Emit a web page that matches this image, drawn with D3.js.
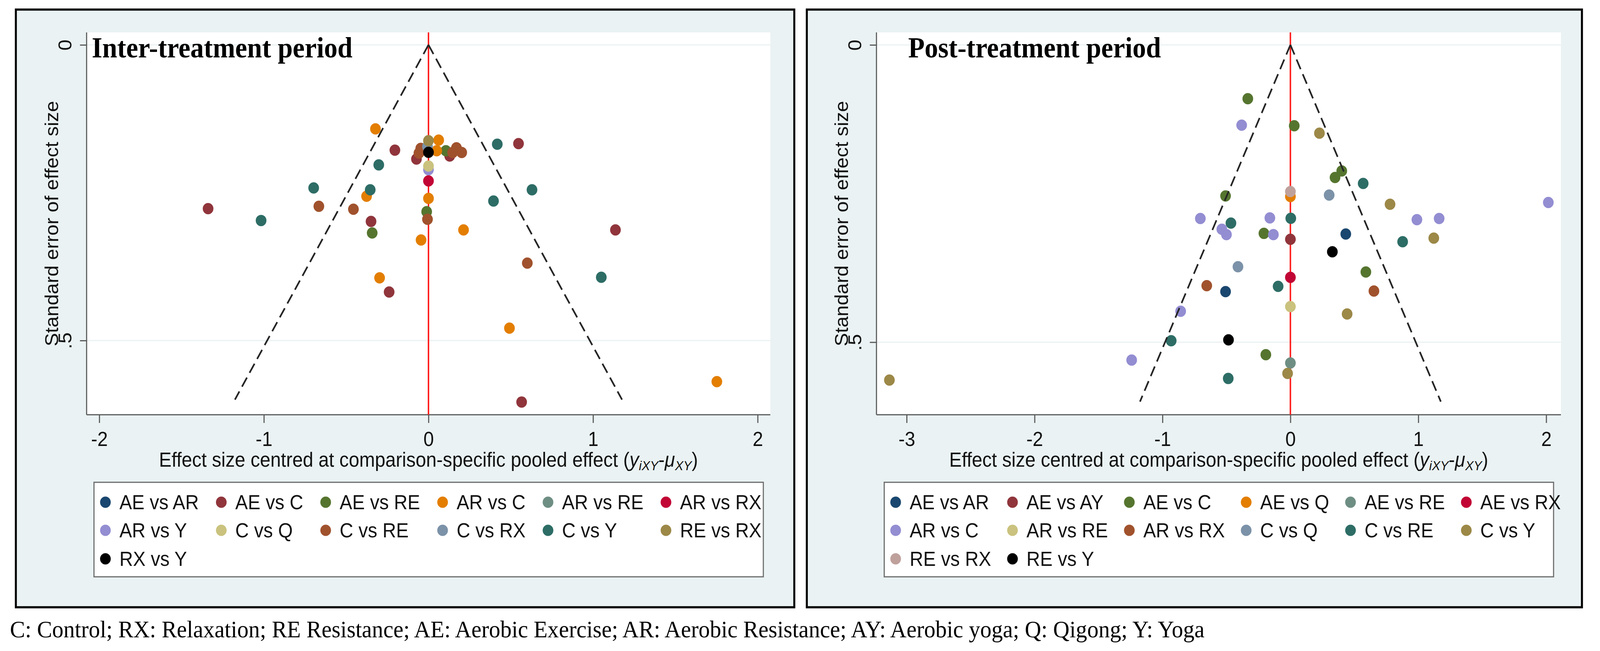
<!DOCTYPE html>
<html>
<head>
<meta charset="utf-8">
<script src="https://cdn.jsdelivr.net/npm/d3@7/dist/d3.min.js"></script>
<style>
  html, body { margin: 0; padding: 0; background: #ffffff; overflow: hidden; }
  #chart { display: block; width: 100vw; height: 100vh; }
</style>
</head>
<body>
<svg id="chart" viewBox="0 0 4341 1667" preserveAspectRatio="none"></svg>
<script>
// ---- data ----

// legend order is also the drawing order (later series on top)
const interSeries = ["AE vs AR", "AE vs C", "AE vs RE", "AR vs C", "AR vs RE", "AR vs RX",
                     "AR vs Y", "C vs Q", "C vs RE", "C vs RX", "C vs Y", "RE vs RX", "RX vs Y"];
const interColors = ["#1a476f", "#90353b", "#55752f", "#e37e00", "#6e8e84", "#c10534",
                     "#938dd2", "#cac27e", "#a0522d", "#7b92a8", "#2d6d66", "#9c8847", "#000000"];

const postSeries = ["AE vs AR", "AE vs AY", "AE vs C", "AE vs Q", "AE vs RE", "AE vs RX",
                    "AR vs C", "AR vs RE", "AR vs RX", "C vs Q", "C vs RE", "C vs Y", "RE vs RX", "RE vs Y"];
const postColors = ["#1a476f", "#90353b", "#55752f", "#e37e00", "#6e8e84", "#c10534",
                    "#938dd2", "#cac27e", "#a0522d", "#7b92a8", "#2d6d66", "#9c8847", "#bfa19c", "#000000"];

// [series, centred effect size, standard error]
const interPoints = [
  ["AE vs C", -0.204, 0.178], ["AE vs C", -1.339, 0.277], ["AE vs C", -0.349, 0.2985],
  ["AE vs C", -0.073, 0.193], ["AE vs C", 0.129, 0.188], ["AE vs C", 0.547, 0.167],
  ["AE vs C", 1.136, 0.313], ["AE vs C", -0.239, 0.418], ["AE vs C", 0.566, 0.604],
  ["AE vs RE", -0.342, 0.318], ["AE vs RE", 0.106, 0.179], ["AE vs RE", -0.011, 0.282],
  ["AR vs C", -0.322, 0.142], ["AR vs C", -0.376, 0.256], ["AR vs C", 0.062, 0.161],
  ["AR vs C", 0.05, 0.179], ["AR vs C", 0, 0.2596], ["AR vs C", 0.213, 0.313],
  ["AR vs C", -0.045, 0.330], ["AR vs C", -0.297, 0.394], ["AR vs C", 0.492, 0.479],
  ["AR vs C", 1.752, 0.5695],
  ["AR vs RX", 0, 0.230],
  ["AR vs Y", 0, 0.211],
  ["C vs Q", 0, 0.205],
  ["C vs RE", -0.666, 0.273], ["C vs RE", -0.456, 0.278], ["C vs RE", -0.047, 0.175],
  ["C vs RE", -0.058, 0.183], ["C vs RE", 0.17, 0.174], ["C vs RE", 0.147, 0.182],
  ["C vs RE", 0.202, 0.182], ["C vs RE", -0.006, 0.295], ["C vs RE", 0.6005, 0.369],
  ["C vs RX", -0.006, 0.172],
  ["C vs Y", -0.302, 0.203], ["C vs Y", -0.6975, 0.242], ["C vs Y", -0.354, 0.245],
  ["C vs Y", -1.017, 0.297], ["C vs Y", 0.418, 0.168], ["C vs Y", 0.629, 0.245],
  ["C vs Y", 0.395, 0.264], ["C vs Y", 1.05, 0.393],
  ["RE vs RX", 0, 0.162],
  ["RX vs Y", 0, 0.1816]
];

const postPoints = [
  ["AE vs AR", 0.433, 0.318], ["AE vs AR", -0.507, 0.415],
  ["AE vs AY", 0, 0.327],
  ["AE vs C", -0.333, 0.0905], ["AE vs C", 0.030, 0.136], ["AE vs C", 0.4015, 0.212],
  ["AE vs C", 0.349, 0.223], ["AE vs C", -0.507, 0.254], ["AE vs C", -0.207, 0.317],
  ["AE vs C", 0.590, 0.382], ["AE vs C", -0.192, 0.521],
  ["AE vs Q", 0, 0.255],
  ["AE vs RE", 0, 0.535],
  ["AE vs RX", 0, 0.391],
  ["AR vs C", -0.381, 0.135], ["AR vs C", 2.0165, 0.265], ["AR vs C", -0.704, 0.292],
  ["AR vs C", -0.1605, 0.291], ["AR vs C", 0.989, 0.294], ["AR vs C", 1.163, 0.292],
  ["AR vs C", -0.536, 0.310], ["AR vs C", -0.500, 0.319], ["AR vs C", -0.133, 0.319],
  ["AR vs C", -0.858, 0.448], ["AR vs C", -1.241, 0.530],
  ["AR vs RE", 0, 0.440],
  ["AR vs RX", -0.654, 0.405], ["AR vs RX", 0.653, 0.414],
  ["C vs Q", 0.303, 0.2525], ["C vs Q", -0.410, 0.373],
  ["C vs RE", 0.569, 0.233], ["C vs RE", -0.465, 0.2996], ["C vs RE", 0.003, 0.2916],
  ["C vs RE", 0.8775, 0.331], ["C vs RE", -0.096, 0.406], ["C vs RE", -0.932, 0.4975],
  ["C vs RE", -0.486, 0.561],
  ["C vs Y", 0.227, 0.1485], ["C vs Y", 0.779, 0.268], ["C vs Y", 1.121, 0.325],
  ["C vs Y", 0.4435, 0.4525], ["C vs Y", -0.022, 0.5526], ["C vs Y", -3.135, 0.5637],
  ["RE vs RX", 0, 0.2466],
  ["RE vs Y", 0.328, 0.348], ["RE vs Y", -0.484, 0.496]
];

const interXTicks = [-2, -1, 0, 1, 2];
const postXTicks = [-3, -2, -1, 0, 1, 2];
const seTicks = [0, 0.5];
const funnelMaxSE = 0.6;   // pseudo 95% limits drawn down to this SE
const footnote = "C: Control; RX: Relaxation; RE Resistance; AE: Aerobic Exercise; AR: Aerobic Resistance; AY: Aerobic yoga; Q: Qigong; Y: Yoga";

// ---- drawing ----
const svg = d3.select("#chart");
const SANS = "'Liberation Sans', Arial, sans-serif";
const SERIF = "'Liberation Serif', 'Times New Roman', serif";

svg.append("rect").attr("width", 4341).attr("height", 1667).attr("fill", "#fff");

function drawPanel(cfg) {
    let g = svg.append("g");

    // outer frame + graph region
    g.append("rect")
        .attr("x", cfg.frame.x).attr("y", cfg.frame.y)
        .attr("width", cfg.frame.w).attr("height", cfg.frame.h)
        .attr("fill", "#eaf2f3")
        .attr("stroke", "#000").attr("stroke-width", 5.5);

    let p = cfg.plot;
    let x = d3.scaleLinear().domain(cfg.xDomain).range([p.x0, p.x1]);
    let y = d3.scaleLinear().domain(cfg.seDomain).range([p.y0, p.y1]);

    // plot region
    g.append("rect")
        .attr("x", p.x0).attr("y", p.y0)
        .attr("width", p.x1 - p.x0).attr("height", p.y1 - p.y0)
        .attr("fill", "#fff");

    // horizontal grid at the labelled SE values
    g.selectAll("line.grid").data(seTicks).enter().append("line")
        .attr("x1", p.x0).attr("x2", p.x1)
        .attr("y1", d => y(d)).attr("y2", d => y(d))
        .attr("stroke", "#eaf2f3").attr("stroke-width", 3);

    // y axis (reversed SE, labels rotated like Stata)
    let yAxis = d3.axisLeft(y).tickValues(seTicks).tickSize(18)
        .tickFormat(d => d === 0 ? "0" : d3.format(".1f")(d).replace(/^0/, ""));
    let ya = g.append("g").attr("transform", `translate(${p.x0},0)`).call(yAxis);
    ya.select(".domain").attr("stroke", "#5a5a5a").attr("stroke-width", 3)
        .attr("d", `M0,${p.y0}V${p.y1}`);
    ya.selectAll(".tick line").attr("stroke", "#5a5a5a").attr("stroke-width", 3);
    ya.selectAll(".tick text")
        .attr("x", null).attr("dy", null)
        .attr("transform", "translate(-41,0) rotate(-90)")
        .attr("text-anchor", "middle")
        .attr("font-family", SANS).attr("font-size", 51).attr("fill", "#111");

    // x axis
    let xAxis = d3.axisBottom(x).tickValues(cfg.xTicks).tickSize(21).tickFormat(d3.format("d"));
    let xa = g.append("g").attr("transform", `translate(0,${p.y1})`).call(xAxis);
    xa.select(".domain").attr("stroke", "#5a5a5a").attr("stroke-width", 3)
        .attr("d", `M${p.x0},0H${p.x1}`);
    xa.selectAll(".tick line").attr("stroke", "#5a5a5a").attr("stroke-width", 3);
    xa.selectAll(".tick text")
        .attr("y", 80).attr("dy", null)
        .attr("font-family", SANS).attr("font-size", 51).attr("fill", "#111")
        .text(d => d < 0 ? "-" + Math.abs(d) : d);

    // axis titles
    g.append("text")
        .attr("transform", `translate(${p.x0 - 77},${(p.y0 + p.y1) / 2}) rotate(-90)`)
        .attr("text-anchor", "middle")
        .attr("font-family", SANS).attr("font-size", 51).attr("fill", "#111")
        .text("Standard error of effect size");

    let xt = g.append("text")
        .attr("x", (p.x0 + p.x1) / 2).attr("y", 1195)
        .attr("text-anchor", "middle")
        .attr("font-family", SANS).attr("font-size", 51).attr("fill", "#111");
    xt.append("tspan").text("Effect size centred at comparison-specific pooled effect (");
    xt.append("tspan").attr("font-style", "italic").text("y");
    xt.append("tspan").attr("font-style", "italic").attr("font-size", 34).attr("dy", 9).text("iXY");
    xt.append("tspan").attr("dy", -9).text("-");
    xt.append("tspan").attr("font-style", "italic").text("μ");
    xt.append("tspan").attr("font-style", "italic").attr("font-size", 34).attr("dy", 9).text("XY");
    xt.append("tspan").attr("dy", -9).text(")");

    // pooled effect reference line
    g.append("line")
        .attr("x1", x(0)).attr("x2", x(0))
        .attr("y1", p.y0).attr("y2", p.y1)
        .attr("stroke", "#ff1a1a").attr("stroke-width", 4);

    // markers, series in legend order
    let order = cfg.points.slice().sort((a, b) => cfg.series.indexOf(a[0]) - cfg.series.indexOf(b[0]));
    g.selectAll("circle.pt").data(order).enter().append("circle")
        .attr("cx", d => x(d[1]))
        .attr("cy", d => y(d[2]))
        .attr("r", 14.5)
        .attr("fill", d => cfg.colors[cfg.series.indexOf(d[0])]);

    // pseudo 95% confidence funnel
    [-1, 1].forEach(function(s) {
        g.append("line")
            .attr("x1", x(0)).attr("y1", y(0))
            .attr("x2", x(s * 1.96 * funnelMaxSE)).attr("y2", y(funnelMaxSE))
            .attr("stroke", "#262626").attr("stroke-width", 4.5)
            .attr("stroke-dasharray", "27 14");
    });

    // panel title
    g.append("text")
        .attr("x", cfg.titleX).attr("y", 147)
        .attr("font-family", SERIF).attr("font-weight", "bold").attr("font-size", 73)
        .attr("fill", "#000")
        .text(cfg.title);

    drawLegend(g, cfg.series, cfg.colors, cfg.legendBox, cfg.legendGap);
}

function drawLegend(g, names, colors, box, gap) {
    g.append("rect")
        .attr("x", box.x).attr("y", box.y).attr("width", box.w).attr("height", box.h)
        .attr("fill", "#fff").attr("stroke", "#6b6b6b").attr("stroke-width", 3);

    const cols = 6;
    const rowY = [51, 123, 196];
    let items = g.selectAll("g.key").data(names).enter().append("g").attr("class", "key");
    items.append("circle").attr("r", 14.5).attr("fill", (d, i) => colors[i]);
    items.append("text")
        .attr("x", 38).attr("dy", "0.36em")
        .attr("font-family", SANS).attr("font-size", 51).attr("fill", "#111")
        .text(d => d);

    // column widths follow the widest label in each column
    let widths = [];
    items.select("text").each(function(d, i) { widths[i] = this.getComputedTextLength(); });
    let colX = [], cx = box.x + 31;
    for (let c = 0; c < cols; c++) {
        colX.push(cx);
        let maxw = d3.max(widths.filter((w, i) => i % cols === c));
        cx += 38 + maxw + gap;
    }
    items.attr("transform", (d, i) => `translate(${colX[i % cols]},${box.y + rowY[Math.floor(i / cols)]})`);
}

drawPanel({
    frame: {x: 43, y: 24.5, w: 2112, h: 1530.5},
    plot: {x0: 235, x1: 2090, y0: 83, y1: 1062},
    xDomain: [-2.077, 2.077], seDomain: [-0.0211, 0.6255],
    xTicks: interXTicks,
    series: interSeries, colors: interColors, points: interPoints,
    title: "Inter-treatment period", titleX: 249,
    legendBox: {x: 255, y: 1235, w: 1816, h: 242}, legendGap: 61
});

drawPanel({
    frame: {x: 2189, y: 24.5, w: 2103, h: 1530.5},
    plot: {x0: 2378, x1: 4235, y0: 83, y1: 1062},
    xDomain: [-3.236, 2.115], seDomain: [-0.021, 0.622],
    xTicks: postXTicks,
    series: postSeries, colors: postColors, points: postPoints,
    title: "Post-treatment period", titleX: 2464,
    legendBox: {x: 2399, y: 1235, w: 1816, h: 242}, legendGap: 58
});

// abbreviation note under both panels
svg.append("text")
    .attr("x", 27).attr("y", 1632)
    .attr("font-family", SERIF).attr("font-size", 61).attr("fill", "#000")
    .attr("textLength", 3241).attr("lengthAdjust", "spacingAndGlyphs")
    .text(footnote);
</script>
</body>
</html>
